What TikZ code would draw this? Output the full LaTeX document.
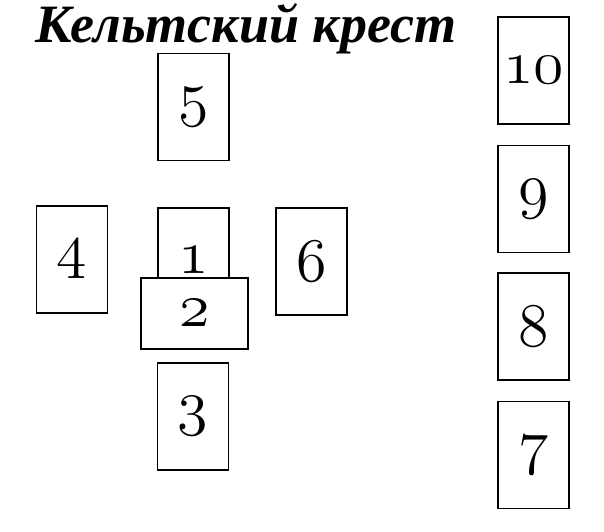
\RequirePackage{fix-cm}
\documentclass[tikz,border=0pt]{standalone}
\usepackage{fontspec}
\newfontfamily\titlefont{Liberation Serif}
\newcommand\oldnum[1]{{\fontsize{62}{62}\usefont{OML}{cmm}{m}{it}#1}}
\tikzset{
  card/.style={draw=black, fill=white, line width=1.8pt, inner sep=0pt},
  tall/.style={card, minimum width=71pt, minimum height=107pt},
  wide/.style={card, minimum width=107pt, minimum height=71pt},
}
\begin{document}
\begin{tikzpicture}[x=1pt,y=-1pt]
\useasboundingbox (0,0) rectangle (604,531);
\node[anchor=base, inner sep=0pt, font=\titlefont\bfseries\itshape\fontsize{54}{54}\selectfont] (title) at (246,42) {Кельтский крест};
\node[tall] (c5) at (193.5,107) {\oldnum{5}};
\node[tall] (c4) at (72,259.5) {\oldnum{4}};
\node[tall] (c1) at (193.5,261.5) {\raisebox{2pt}{\oldnum{1}}};
\node[wide] (c2) at (194.5,313.5) {\oldnum{2}};
\node[tall] (c6) at (311.5,261.5) {\oldnum{6}};
\node[tall] (c3) at (193,416.5) {\oldnum{3}};
\node[tall] (c10) at (533.5,70.5) {\oldnum{10}};
\node[tall] (c9) at (533.5,199) {\oldnum{9}};
\node[tall] (c8) at (533.5,326.5) {\oldnum{8}};
\node[tall] (c7) at (533.5,455) {\oldnum{7}};
\end{tikzpicture}
\end{document}
